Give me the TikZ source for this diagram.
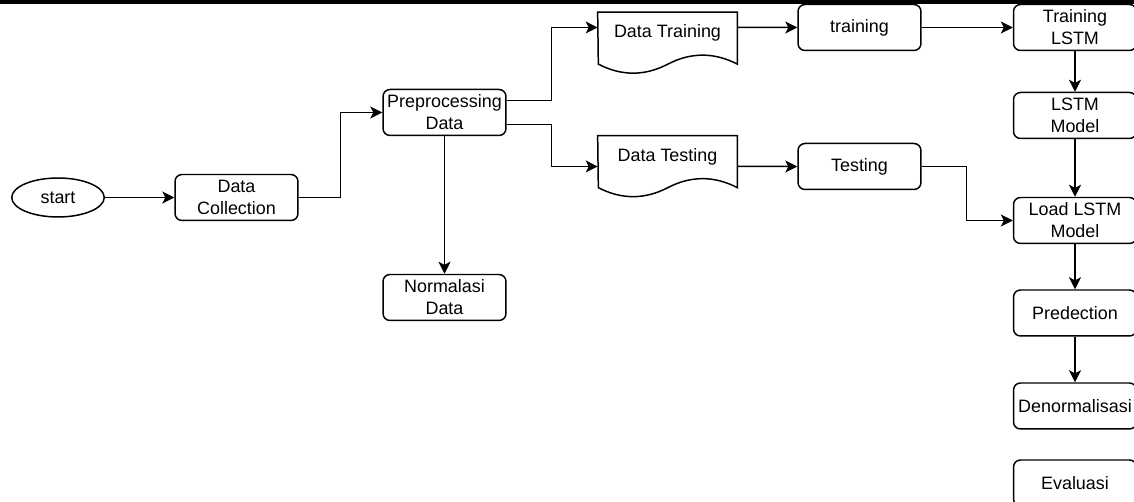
\documentclass[tikz,border=0pt]{standalone}
\usepackage{fontspec}
\setmainfont{Liberation Sans}
\usetikzlibrary{shapes.geometric,arrows.meta}

\begin{document}
\begin{tikzpicture}[x=0.02cm,y=-0.02cm,
    huruf/.style={font=\fontsize{10.2}{12.5}\selectfont},
    kotak/.style={huruf,draw,rounded corners=0.14cm,line width=0.85pt,
      minimum width=2.46cm,minimum height=0.92cm,align=center,inner sep=1pt},
    dok/.style={huruf,minimum width=2.78cm,minimum height=0.82cm,inner sep=1pt},
    garis/.style={line width=0.85pt},
    panah/.style={garis,-{Stealth[length=6.8pt,width=6.8pt,inset=1.7pt]}}]
  % 画像の範囲
  \path[use as bounding box,clip] (0,0) rectangle (1134,502);
  % 上の黒い帯
  \fill (0,0) rectangle (1134,4.5);
  % 開始
  \node[huruf,draw,ellipse,line width=0.85pt,minimum width=1.85cm,
    minimum height=0.78cm,inner sep=0pt] (start) at (58,197.5) {start};
  % 左側の処理
  \node[kotak] (koleksi) at (236.5,197.5) {Data\\Collection};
  \node[kotak] (prepro) at (444.5,112.5) {Preprocessing\\Data};
  \node[kotak] (normal) at (444.5,297.5) {Normalasi\\Data};
  % 文書（波形の下辺）
  \node[dok] (dtrain) at (667.5,33) {Data Training};
  \draw[garis] (dtrain.north west) -- (dtrain.north east) -- ++(0,52)
    .. controls +(-23,-12) and +(23,-12) .. ++(-69.5,0)
    .. controls +(-23,12) and +(23,12) .. ++(-69.5,0) -- cycle;
  \node[dok] (dtest) at (667.5,156.5) {Data Testing};
  \draw[garis] (dtest.north west) -- (dtest.north east) -- ++(0,52)
    .. controls +(-23,-12) and +(23,-12) .. ++(-69.5,0)
    .. controls +(-23,12) and +(23,12) .. ++(-69.5,0) -- cycle;
  % 中央の処理
  \node[kotak] (train) at (859.5,27.5) {training};
  \node[kotak] (test) at (859.5,166.5) {Testing};
  % 右の列
  \node[kotak] (tlstm) at (1075,27.5) {Training\\LSTM};
  \node[kotak] (model) at (1075,115.5) {LSTM\\Model};
  \node[kotak] (load) at (1075,220.5) {Load LSTM\\Model};
  \node[kotak] (prediksi) at (1075,313) {Predection};
  \node[kotak] (denorm) at (1075,406) {Denormalisasi};
  \node[kotak] (evaluasi) at (1075,483) {Evaluasi};
  % 矢印
  \draw[panah] (start) -- (koleksi);
  \draw[panah] (koleksi.east) -- ++(42,0) |- (prepro.west);
  \draw[panah] ([yshift=0.24cm]prepro.east) -- ++(45,0) |- ([yshift=0.11cm]dtrain.west);
  \draw[panah] ([yshift=-0.24cm]prepro.east) -- ++(45,0) |- ([yshift=-0.2cm]dtest.west);
  \draw[panah] (prepro) -- (normal);
  \draw[panah] ([yshift=0.11cm]dtrain.east) -- (train.west);
  \draw[panah] ([yshift=-0.2cm]dtest.east) -- (test.west);
  \draw[panah] (train) -- (tlstm);
  \draw[panah] (test.east) -- ++(45,0) |- (load.west);
  \draw[panah] (tlstm) -- (model);
  \draw[panah] (model) -- (load);
  \draw[panah] (load) -- (prediksi);
  \draw[panah] (prediksi) -- (denorm);
\end{tikzpicture}
\end{document}
